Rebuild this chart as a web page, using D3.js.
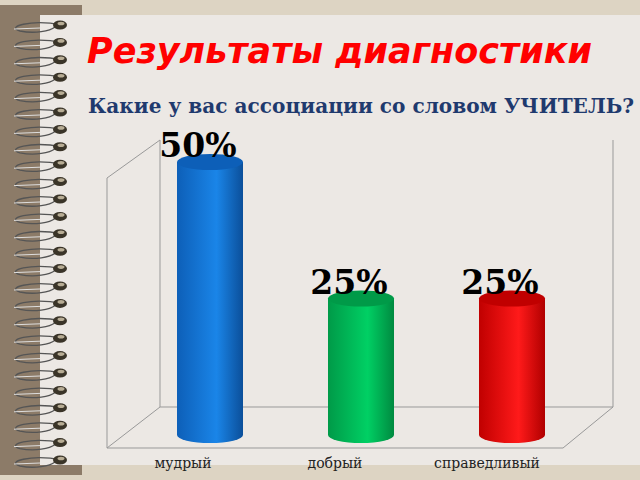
<!DOCTYPE html><html><head><meta charset="utf-8"><script src="https://cdn.jsdelivr.net/npm/d3@7"></script>
<style>body{margin:0}svg{display:block}</style></head><body><svg id="c" width="640" height="480"></svg>
<script>
const categories=["мудрый","добрый","справедливый"];
const values=[50,25,25];
const labels=["50%","25%","25%"];
const colors=[["#0d5fb8","#1a85e8","#0b4f9a"],["#009a48","#00d064","#008a40"],["#c00000","#ff1a1a","#b00000"]];
const svg=d3.select("#c");
svg.append("rect").attr("width",640).attr("height",480).attr("fill","#ddd4c3");
svg.append("rect").attr("x",0).attr("y",5).attr("width",82).attr("height",470).attr("fill","#8c7b68");
svg.append("rect").attr("x",40).attr("y",15).attr("width",600).attr("height",450).attr("fill","#ece8e4");
const defs=svg.append("defs");
for(let y=25;y<465;y+=17.4){
  svg.append("path").attr("d",`M62,${y} C30,${y-6} 5,${y+2} 20,${y+6} C35,${y+9} 50,${y+6} 55,${y+2}`).attr("fill","none").attr("stroke","#555").attr("stroke-width",1.3);
  svg.append("path").attr("d",`M14,${y+4} L40,${y+3}`).attr("stroke","#ddd").attr("stroke-width",1);
  svg.append("ellipse").attr("cx",60).attr("cy",y).attr("rx",7).attr("ry",4.5).attr("fill","#3a3428");
  svg.append("ellipse").attr("cx",61).attr("cy",y-1.5).attr("rx",3.5).attr("ry",1.8).attr("fill","#b8ad95");
}
svg.append("text").attr("x",87).attr("y",63).attr("font-family","DejaVu Sans").attr("font-weight","bold").attr("font-style","italic").attr("font-size",35).attr("fill","#ff0000").text("Результаты диагностики");
svg.append("text").attr("x",88).attr("y",113).attr("font-family","DejaVu Serif").attr("font-weight","bold").attr("font-size",19.5).attr("fill","#1f3a6e").attr("lengthAdjust","spacingAndGlyphs").attr("textLength",546).text("Какие у вас ассоциации со словом УЧИТЕЛЬ?");
const g=svg.append("g").attr("fill","none").attr("stroke","#999").attr("stroke-width",1);
g.append("path").attr("d","M160,140 L160,407 L613,407 L613,140");
g.append("path").attr("d","M107,178 L160,140 M107,178 L107,448 L563,448 L613,407 M107,448 L160,407");
const x=d3.scalePoint().domain(categories).range([210,512]);
const y=d3.scaleLinear().domain([0,50]).range([435,162]);
const ry=8, w=66;
const lx=d3.scalePoint().domain(categories).range([183,487]);
categories.forEach((c,i)=>{
  const gr=defs.append("linearGradient").attr("id","g"+i);
  gr.append("stop").attr("offset","0").attr("stop-color",colors[i][0]);
  gr.append("stop").attr("offset","0.6").attr("stop-color",colors[i][1]);
  gr.append("stop").attr("offset","1").attr("stop-color",colors[i][2]);
  const cx=x(c), x0=cx-w/2, x1=cx+w/2, yt=y(values[i]), yb=y(0);
  svg.append("path").attr("d",`M${x0},${yt} L${x0},${yb} A${w/2},${ry} 0 0 0 ${x1},${yb} L${x1},${yt} Z`).attr("fill",`url(#g${i})`);
  svg.append("ellipse").attr("cx",cx).attr("cy",yt).attr("rx",w/2).attr("ry",ry).attr("fill",colors[i][0]);
  svg.append("text").attr("x",cx-12).attr("y",yt-5).attr("text-anchor","middle").attr("font-family","DejaVu Serif").attr("font-weight","bold").attr("font-size",33).text(labels[i]);
  svg.append("text").attr("x",lx(c)).attr("y",468).attr("text-anchor","middle").attr("font-family","DejaVu Serif").attr("font-size",14).attr("fill","#222").text(c);
});
</script></body></html>
